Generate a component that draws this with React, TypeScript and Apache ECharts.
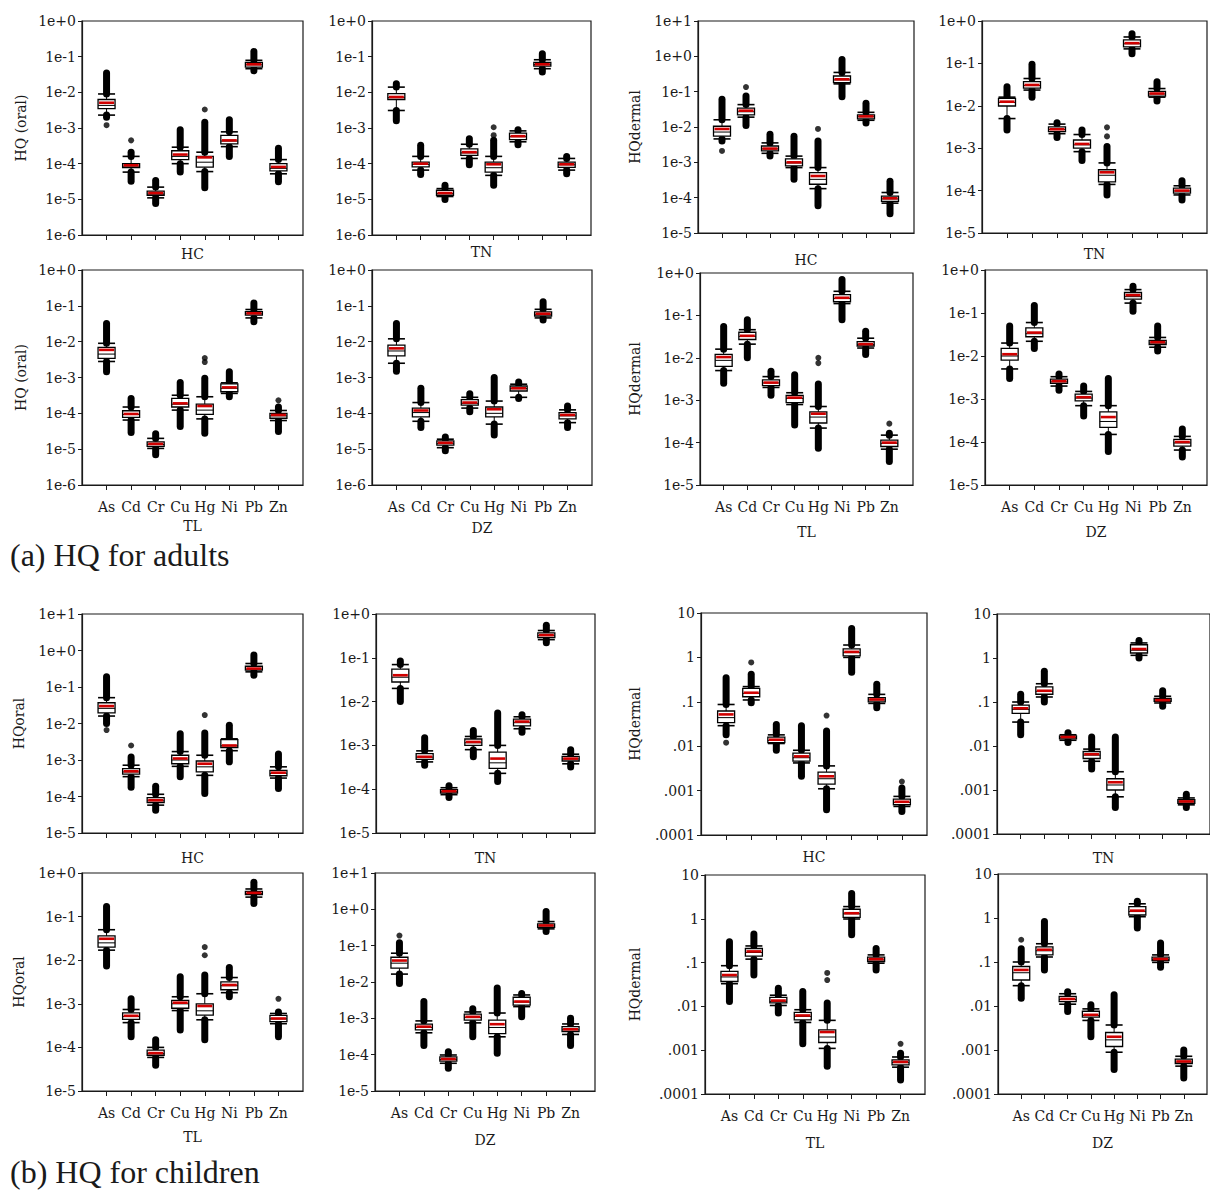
import React, { useEffect, useRef } from "react";
import * as echarts from "echarts";

// ---------- categories / labels ----------
const elements = ["As", "Cd", "Cr", "Cu", "Hg", "Ni", "Pb", "Zn"];
const xCats = ["", ...elements, ""];
const decimalTicks = ["10", "1", ".1", ".01", ".001", ".0001"]; // 1e1 .. 1e-4

// each row: [lowest outlier, lower whisker, Q1, median, Q3, upper whisker, highest outlier, mean]
// ---------- (a) adults, oral ----------
const adultOralHC = [
  [2.0e-3, 2.3e-3, 3.5e-3, 4.3e-3, 6.3e-3, 9.0e-3, 3.5e-2, 5.1e-3],
  [3.2e-5, 5.8e-5, 7.7e-5, 8.5e-5, 1.0e-4, 1.6e-4, 2.1e-4, 9.0e-5],
  [7.6e-6, 1.1e-5, 1.3e-5, 1.4e-5, 1.7e-5, 2.2e-5, 3.4e-5, 1.5e-5],
  [5.8e-5, 1.0e-4, 1.3e-4, 1.6e-4, 2.3e-4, 2.9e-4, 9.0e-4, 1.8e-4],
  [2.1e-5, 6.0e-5, 8.0e-5, 1.1e-4, 1.6e-4, 2.1e-4, 1.45e-3, 1.5e-4],
  [1.6e-4, 3.0e-4, 3.6e-4, 4.3e-4, 6.2e-4, 7.8e-4, 1.7e-3, 4.5e-4],
  [4.0e-2, 4.6e-2, 5.1e-2, 5.9e-2, 6.9e-2, 7.9e-2, 1.4e-1, 6.1e-2],
  [3.1e-5, 5.2e-5, 6.3e-5, 7.4e-5, 1.0e-4, 1.3e-4, 2.7e-4, 8.1e-5],
];
const adultOralHCIso = [[0, 1.2e-3], [1, 4.5e-4], [4, 3.3e-3]];

const adultOralTN = [
  [1.6e-3, 3.1e-3, 6.3e-3, 7.1e-3, 9.2e-3, 1.4e-2, 1.75e-2, 7.4e-3],
  [5.0e-5, 6.6e-5, 8.1e-5, 9.5e-5, 1.1e-4, 1.6e-4, 3.3e-4, 1.0e-4],
  [9.9e-6, 1.2e-5, 1.3e-5, 1.45e-5, 1.8e-5, 2.0e-5, 2.5e-5, 1.5e-5],
  [9.4e-5, 1.4e-4, 1.7e-4, 2.0e-4, 2.6e-4, 3.5e-4, 5.0e-4, 2.1e-4],
  [2.5e-5, 4.7e-5, 5.8e-5, 7.7e-5, 1.1e-4, 1.6e-4, 4.5e-4, 9.6e-5],
  [3.4e-4, 4.1e-4, 4.7e-4, 5.7e-4, 7.2e-4, 8.3e-4, 9.0e-4, 5.9e-4],
  [3.7e-2, 4.6e-2, 5.4e-2, 6.0e-2, 6.9e-2, 8.2e-2, 1.2e-1, 6.1e-2],
  [5.2e-5, 6.6e-5, 7.9e-5, 9.3e-5, 1.1e-4, 1.4e-4, 1.6e-4, 9.6e-5],
];
const adultOralTNIso = [[4, 6.3e-4], [4, 1.05e-3]];

const adultOralTL = [
  [1.45e-3, 2.8e-3, 3.4e-3, 4.5e-3, 6.9e-3, 9.0e-3, 3.2e-2, 5.9e-3],
  [2.9e-5, 6.5e-5, 7.7e-5, 9.3e-5, 1.18e-4, 1.5e-4, 2.6e-4, 9.6e-5],
  [7.0e-6, 1.05e-5, 1.2e-5, 1.35e-5, 1.6e-5, 2.0e-5, 2.7e-5, 1.4e-5],
  [4.3e-5, 1.23e-4, 1.5e-4, 1.8e-4, 2.6e-4, 3.2e-4, 7.2e-4, 1.9e-4],
  [2.8e-5, 7.0e-5, 9.4e-5, 1.23e-4, 1.8e-4, 2.9e-4, 9.5e-4, 1.6e-4],
  [2.9e-4, 3.6e-4, 4.0e-4, 5.0e-4, 6.6e-4, 7.1e-4, 1.45e-3, 5.3e-4],
  [3.6e-2, 4.6e-2, 5.5e-2, 6.0e-2, 6.9e-2, 7.9e-2, 1.2e-1, 6.2e-2],
  [3.1e-5, 6.3e-5, 7.3e-5, 8.5e-5, 1.0e-4, 1.2e-4, 1.5e-4, 9.0e-5],
];
const adultOralTLIso = [[4, 3.5e-3], [4, 2.7e-3], [7, 2.3e-4]];

const adultOralDZ = [
  [1.5e-3, 2.5e-3, 4.0e-3, 5.5e-3, 8.0e-3, 1.2e-2, 3.2e-2, 6.5e-3],
  [4.0e-5, 6.0e-5, 8.0e-5, 1.05e-4, 1.4e-4, 2.0e-4, 5.0e-4, 1.2e-4],
  [9.0e-6, 1.1e-5, 1.3e-5, 1.45e-5, 1.7e-5, 1.9e-5, 2.2e-5, 1.5e-5],
  [1.1e-4, 1.4e-4, 1.7e-4, 1.9e-4, 2.4e-4, 2.8e-4, 3.5e-4, 2.0e-4],
  [2.5e-5, 5.0e-5, 8.0e-5, 1.0e-4, 1.5e-4, 2.2e-4, 1.0e-3, 1.3e-4],
  [2.6e-4, 2.8e-4, 4.2e-4, 4.9e-4, 5.8e-4, 6.5e-4, 7.5e-4, 5.0e-4],
  [4.0e-2, 4.6e-2, 5.2e-2, 5.8e-2, 6.8e-2, 8.0e-2, 1.3e-1, 6.0e-2],
  [4.0e-5, 5.5e-5, 7.0e-5, 8.5e-5, 1.05e-4, 1.25e-4, 1.6e-4, 9.0e-5],
];
const adultOralDZIso: number[][] = [];

// ---------- (a) adults, dermal ----------
const adultDermalHC = [
  [4.0e-3, 4.6e-3, 5.5e-3, 7.2e-3, 1.05e-2, 1.6e-2, 6.1e-2, 8.8e-3],
  [1.1e-2, 1.9e-2, 2.2e-2, 2.7e-2, 3.4e-2, 4.3e-2, 7.5e-2, 2.9e-2],
  [1.5e-3, 1.8e-3, 2.1e-3, 2.4e-3, 2.9e-3, 3.55e-3, 6.2e-3, 2.45e-3],
  [3.3e-4, 7.1e-4, 7.9e-4, 9.6e-4, 1.26e-3, 1.5e-3, 5.5e-3, 1.0e-3],
  [5.9e-5, 1.8e-4, 2.4e-4, 3.3e-4, 5.1e-4, 7.1e-4, 4.0e-3, 4.1e-4],
  [7.2e-2, 1.66e-1, 1.8e-1, 2.15e-1, 2.78e-1, 3.5e-1, 8.2e-1, 2.24e-1],
  [1.3e-2, 1.55e-2, 1.7e-2, 1.95e-2, 2.2e-2, 2.6e-2, 4.7e-2, 2.0e-2],
  [3.5e-5, 7.0e-5, 7.9e-5, 9.2e-5, 1.1e-4, 1.4e-4, 2.9e-4, 9.6e-5],
];
const adultDermalHCIso = [[0, 2.1e-3], [1, 1.35e-1], [4, 8.8e-3]];

const adultDermalTN = [
  [2.7e-3, 5.0e-3, 9.9e-3, 1.2e-2, 1.5e-2, 1.6e-2, 2.8e-2, 1.25e-2],
  [1.6e-2, 2.35e-2, 2.6e-2, 3.0e-2, 3.7e-2, 4.4e-2, 9.6e-2, 3.1e-2],
  [1.8e-3, 2.2e-3, 2.45e-3, 2.75e-3, 3.2e-3, 3.7e-3, 4.0e-3, 2.8e-3],
  [5.1e-4, 8.3e-4, 1.0e-3, 1.2e-3, 1.56e-3, 2.1e-3, 2.7e-3, 1.26e-3],
  [7.9e-5, 1.4e-4, 1.6e-4, 2.3e-4, 3.1e-4, 4.5e-4, 1.1e-3, 2.7e-4],
  [1.7e-1, 2.2e-1, 2.45e-1, 2.9e-1, 3.6e-1, 4.2e-1, 5.0e-1, 3.0e-1],
  [1.3e-2, 1.6e-2, 1.7e-2, 1.9e-2, 2.2e-2, 2.55e-2, 3.7e-2, 1.95e-2],
  [6.0e-5, 7.9e-5, 8.7e-5, 9.8e-5, 1.15e-4, 1.3e-4, 1.7e-4, 1.0e-4],
];
const adultDermalTNIso = [[4, 1.9e-3], [4, 3.1e-3]];

const adultDermalTL = [
  [2.5e-3, 5.0e-3, 6.3e-3, 8.7e-3, 1.2e-2, 1.6e-2, 5.5e-2, 1.04e-2],
  [1.0e-2, 2.1e-2, 2.7e-2, 3.2e-2, 4.0e-2, 4.6e-2, 7.9e-2, 3.3e-2],
  [1.3e-3, 2.0e-3, 2.2e-3, 2.55e-3, 3.0e-3, 3.6e-3, 4.8e-3, 2.6e-3],
  [2.6e-4, 7.9e-4, 8.8e-4, 1.1e-3, 1.3e-3, 1.5e-3, 4.0e-3, 1.15e-3],
  [7.4e-5, 2.2e-4, 2.9e-4, 4.0e-4, 5.3e-4, 7.1e-4, 2.4e-3, 4.8e-4],
  [7.9e-2, 1.9e-1, 2.1e-1, 2.5e-1, 3.1e-1, 3.7e-1, 7.0e-1, 2.6e-1],
  [1.2e-2, 1.7e-2, 1.9e-2, 2.05e-2, 2.4e-2, 2.9e-2, 4.2e-2, 2.1e-2],
  [3.6e-5, 7.0e-5, 8.1e-5, 9.6e-5, 1.15e-4, 1.5e-4, 1.66e-4, 1.0e-4],
];
const adultDermalTLIso = [[4, 1.0e-2], [4, 7.5e-3], [7, 2.8e-4]];

const adultDermalDZ = [
  [3.0e-3, 5.0e-3, 8.0e-3, 1.0e-2, 1.5e-2, 2.0e-2, 5.0e-2, 1.1e-2],
  [1.5e-2, 2.2e-2, 2.8e-2, 3.3e-2, 4.5e-2, 6.0e-2, 1.5e-1, 3.5e-2],
  [1.6e-3, 2.0e-3, 2.3e-3, 2.5e-3, 2.9e-3, 3.3e-3, 3.8e-3, 2.6e-3],
  [4.0e-4, 7.0e-4, 9.0e-4, 1.05e-3, 1.3e-3, 1.5e-3, 2.0e-3, 1.1e-3],
  [6.0e-5, 1.5e-4, 2.2e-4, 3.0e-4, 5.0e-4, 7.0e-4, 3.0e-3, 3.8e-4],
  [1.1e-1, 1.7e-1, 2.1e-1, 2.4e-1, 3.0e-1, 3.5e-1, 4.2e-1, 2.6e-1],
  [1.3e-2, 1.6e-2, 1.85e-2, 2.0e-2, 2.3e-2, 2.7e-2, 5.0e-2, 2.1e-2],
  [4.5e-5, 6.5e-5, 8.0e-5, 9.5e-5, 1.15e-4, 1.35e-4, 2.0e-4, 1.0e-4],
];
const adultDermalDZIso: number[][] = [];

// ---------- (b) children, oral ----------
const childOralHC = [
  [1.0e-2, 1.6e-2, 1.95e-2, 2.6e-2, 3.7e-2, 5.1e-2, 1.9e-1, 3.0e-2],
  [1.8e-4, 3.5e-4, 4.1e-4, 4.7e-4, 5.8e-4, 7.2e-4, 1.2e-3, 4.9e-4],
  [4.2e-5, 5.8e-5, 6.8e-5, 7.6e-5, 9.3e-5, 1.15e-4, 1.9e-4, 7.9e-5],
  [3.5e-4, 6.7e-4, 7.9e-4, 1.0e-3, 1.35e-3, 1.7e-3, 5.2e-3, 1.1e-3],
  [1.2e-4, 3.8e-4, 4.7e-4, 6.5e-4, 9.4e-4, 1.35e-3, 5.5e-3, 7.9e-4],
  [8.9e-4, 1.8e-3, 2.2e-3, 2.45e-3, 3.6e-3, 3.8e-3, 8.9e-3, 2.5e-3],
  [2.1e-1, 2.6e-1, 2.9e-1, 3.1e-1, 3.7e-1, 4.4e-1, 7.5e-1, 3.2e-1],
  [1.65e-4, 3.2e-4, 3.7e-4, 4.3e-4, 5.2e-4, 6.5e-4, 1.45e-3, 4.5e-4],
];
const childOralHCIso = [[0, 6.6e-3], [1, 2.5e-3], [4, 1.7e-2]];

const childOralTN = [
  [1.0e-2, 2.0e-2, 2.8e-2, 3.6e-2, 5.5e-2, 7.0e-2, 8.5e-2, 4.0e-2],
  [3.5e-4, 4.2e-4, 4.8e-4, 5.4e-4, 6.5e-4, 7.5e-4, 1.5e-3, 5.5e-4],
  [6.5e-5, 7.5e-5, 8.2e-5, 8.8e-5, 9.8e-5, 1.08e-4, 1.2e-4, 9.0e-5],
  [5.5e-4, 8.0e-4, 1.0e-3, 1.15e-3, 1.4e-3, 1.6e-3, 2.2e-3, 1.2e-3],
  [1.5e-4, 2.3e-4, 3.0e-4, 4.0e-4, 7.0e-4, 1.0e-3, 5.5e-3, 5.0e-4],
  [2.0e-3, 2.4e-3, 2.8e-3, 3.3e-3, 4.0e-3, 4.5e-3, 5.0e-3, 3.5e-3],
  [2.2e-1, 2.6e-1, 2.9e-1, 3.2e-1, 3.7e-1, 4.2e-1, 5.5e-1, 3.3e-1],
  [3.2e-4, 3.8e-4, 4.4e-4, 4.9e-4, 5.6e-4, 6.3e-4, 8.0e-4, 5.0e-4],
];
const childOralTNIso: number[][] = [];

const childOralTL = [
  [7.4e-3, 1.7e-2, 2.0e-2, 2.5e-2, 3.6e-2, 5.0e-2, 1.7e-1, 3.1e-2],
  [1.75e-4, 3.7e-4, 4.4e-4, 5.1e-4, 6.2e-4, 7.4e-4, 1.3e-3, 5.3e-4],
  [3.9e-5, 5.9e-5, 6.6e-5, 7.2e-5, 8.7e-5, 1.0e-4, 1.5e-4, 7.4e-5],
  [2.5e-4, 7.0e-4, 7.9e-4, 1.0e-3, 1.2e-3, 1.45e-3, 4.2e-3, 1.06e-3],
  [1.5e-4, 4.3e-4, 5.5e-4, 6.9e-4, 1.0e-3, 1.7e-3, 4.6e-3, 8.9e-4],
  [1.45e-3, 1.8e-3, 2.1e-3, 2.6e-3, 3.2e-3, 4.0e-3, 6.8e-3, 2.7e-3],
  [2.0e-1, 2.8e-1, 3.2e-1, 3.4e-1, 3.8e-1, 4.3e-1, 6.1e-1, 3.5e-1],
  [1.75e-4, 3.5e-4, 3.9e-4, 4.5e-4, 5.4e-4, 6.0e-4, 6.5e-4, 4.6e-4],
];
const childOralTLIso = [[4, 2.0e-2], [4, 1.3e-2], [7, 1.3e-3]];

const childOralDZ = [
  [9.1e-3, 1.65e-2, 2.4e-2, 3.3e-2, 4.8e-2, 6.2e-2, 1.2e-1, 3.9e-2],
  [1.8e-4, 4.0e-4, 4.8e-4, 5.6e-4, 6.9e-4, 8.5e-4, 2.9e-3, 5.9e-4],
  [4.2e-5, 5.8e-5, 6.6e-5, 7.4e-5, 8.7e-5, 9.8e-5, 1.2e-4, 7.6e-5],
  [3.1e-4, 7.5e-4, 8.9e-4, 1.05e-3, 1.3e-3, 1.5e-3, 1.85e-3, 1.1e-3],
  [1.1e-4, 3.1e-4, 3.8e-4, 5.6e-4, 8.9e-4, 1.4e-3, 6.8e-3, 6.9e-4],
  [1.1e-3, 2.1e-3, 2.3e-3, 2.8e-3, 3.8e-3, 4.4e-3, 4.8e-3, 2.9e-3],
  [2.45e-1, 2.9e-1, 3.2e-1, 3.5e-1, 4.0e-1, 4.6e-1, 8.7e-1, 3.6e-1],
  [1.8e-4, 3.6e-4, 4.3e-4, 4.8e-4, 5.9e-4, 7.0e-4, 1.0e-3, 5.0e-4],
];
const childOralDZIso = [[0, 1.9e-1]];

// ---------- (b) children, dermal ----------
const childDermalHC = [
  [1.8e-2, 2.9e-2, 3.4e-2, 4.4e-2, 6.2e-2, 8.7e-2, 3.5e-1, 5.2e-2],
  [9.5e-2, 1.1e-1, 1.3e-1, 1.55e-1, 2.0e-1, 2.2e-1, 4.2e-1, 1.6e-1],
  [8.1e-3, 1.15e-2, 1.2e-2, 1.35e-2, 1.6e-2, 1.8e-2, 3.1e-2, 1.4e-2],
  [2.1e-3, 4.2e-3, 4.6e-3, 5.5e-3, 7.0e-3, 8.1e-3, 2.9e-2, 5.9e-3],
  [3.7e-4, 1.1e-3, 1.4e-3, 1.85e-3, 2.6e-3, 3.6e-3, 2.2e-2, 2.1e-3],
  [4.6e-1, 1.0, 1.08, 1.28, 1.55, 1.9, 4.5, 1.33],
  [7.3e-2, 9.2e-2, 1.0e-1, 1.1e-1, 1.24e-1, 1.47e-1, 2.5e-1, 1.13e-1],
  [3.4e-4, 4.4e-4, 4.8e-4, 5.4e-4, 6.4e-4, 7.4e-4, 1.14e-3, 5.6e-4],
];
const childDermalHCIso = [[0, 1.2e-2], [1, 7.7e-1], [4, 4.9e-2], [7, 1.6e-3]];

const childDermalTN = [
  [1.8e-2, 3.5e-2, 5.5e-2, 6.8e-2, 8.5e-2, 1.0e-1, 1.5e-1, 7.2e-2],
  [1.0e-1, 1.3e-1, 1.5e-1, 1.75e-1, 2.2e-1, 2.6e-1, 5.0e-1, 1.8e-1],
  [1.2e-2, 1.35e-2, 1.45e-2, 1.55e-2, 1.7e-2, 1.8e-2, 2.0e-2, 1.6e-2],
  [3.0e-3, 4.5e-3, 5.2e-3, 6.2e-3, 7.5e-3, 8.5e-3, 1.6e-2, 6.5e-3],
  [4.0e-4, 7.0e-4, 1.0e-3, 1.3e-3, 1.8e-3, 2.6e-3, 1.6e-2, 1.5e-3],
  [1.0, 1.15, 1.3, 1.5, 2.0, 2.2, 2.5, 1.6],
  [8.0e-2, 9.5e-2, 1.03e-1, 1.1e-1, 1.2e-1, 1.35e-1, 1.8e-1, 1.1e-1],
  [4.0e-4, 4.6e-4, 5.0e-4, 5.4e-4, 6.0e-4, 6.6e-4, 8.0e-4, 5.5e-4],
];
const childDermalTNIso: number[][] = [];

const childDermalTL = [
  [1.3e-2, 3.3e-2, 3.7e-2, 4.7e-2, 6.3e-2, 8.5e-2, 3.0e-1, 5.2e-2],
  [5.2e-2, 1.2e-1, 1.4e-1, 1.7e-1, 2.1e-1, 2.4e-1, 4.5e-1, 1.8e-1],
  [7.1e-3, 1.05e-2, 1.2e-2, 1.3e-2, 1.6e-2, 1.8e-2, 2.6e-2, 1.36e-2],
  [1.4e-3, 4.3e-3, 4.9e-3, 5.9e-3, 7.3e-3, 8.4e-3, 2.2e-2, 6.2e-3],
  [4.3e-4, 1.1e-3, 1.5e-3, 2.0e-3, 2.9e-3, 4.8e-3, 1.2e-2, 2.6e-3],
  [4.3e-1, 0.99, 1.08, 1.3, 1.65, 1.9, 3.8, 1.34],
  [6.8e-2, 9.7e-2, 1.06e-1, 1.15e-1, 1.33e-1, 1.5e-1, 2.1e-1, 1.2e-1],
  [2.1e-4, 4.1e-4, 4.6e-4, 5.2e-4, 6.0e-4, 7.0e-4, 8.5e-4, 5.4e-4],
];
const childDermalTLIso = [[4, 5.8e-2], [4, 4.0e-2], [7, 1.4e-3]];

const childDermalDZ = [
  [1.5e-2, 2.9e-2, 3.9e-2, 5.7e-2, 7.9e-2, 1.0e-1, 2.0e-1, 6.6e-2],
  [6.6e-2, 1.3e-1, 1.45e-1, 1.8e-1, 2.2e-1, 2.6e-1, 8.3e-1, 1.9e-1],
  [7.5e-3, 1.1e-2, 1.26e-2, 1.4e-2, 1.66e-2, 1.9e-2, 2.1e-2, 1.45e-2],
  [2.0e-3, 4.7e-3, 5.6e-3, 6.1e-3, 7.6e-3, 8.6e-3, 1.07e-2, 6.3e-3],
  [3.6e-4, 8.9e-4, 1.2e-3, 1.7e-3, 2.5e-3, 3.7e-3, 1.8e-2, 2.0e-3],
  [5.9e-1, 1.07, 1.17, 1.4, 1.82, 2.1, 2.4, 1.47],
  [7.6e-2, 9.8e-2, 1.08e-1, 1.15e-1, 1.29e-1, 1.45e-1, 2.7e-1, 1.17e-1],
  [2.3e-4, 4.3e-4, 4.9e-4, 5.3e-4, 6.2e-4, 7.2e-4, 1.0e-3, 5.5e-4],
];
const childDermalDZIso = [[0, 3.2e-1]];

const captions = ["(a) HQ for adults", "(b) HQ for children"];

// ---------- layout ----------
type Panel = {
  data: number[][];
  iso: number[][];
  site: string;
  yMin: number;
  yMax: number;
  yName: string;
  fmt: "exp" | "dec";
  labels: boolean;
  box: number[]; // left, top, width, height
  xGap: number;
  yGap: number;
};

const panels: Panel[] = [
  { data: adultOralHC, iso: adultOralHCIso, site: "HC", yMin: 1e-6, yMax: 1, yName: "HQ (oral)", fmt: "exp", labels: false, box: [82, 21, 221, 214], xGap: 12, yGap: 54 },
  { data: adultOralTN, iso: adultOralTNIso, site: "TN", yMin: 1e-6, yMax: 1, yName: "", fmt: "exp", labels: false, box: [372, 21, 219, 214], xGap: 10, yGap: 54 },
  { data: adultDermalHC, iso: adultDermalHCIso, site: "HC", yMin: 1e-5, yMax: 10, yName: "HQdermal", fmt: "exp", labels: false, box: [698, 21, 216, 212], xGap: 20, yGap: 56 },
  { data: adultDermalTN, iso: adultDermalTNIso, site: "TN", yMin: 1e-5, yMax: 1, yName: "", fmt: "exp", labels: false, box: [982, 21, 225, 212], xGap: 14, yGap: 54 },
  { data: adultOralTL, iso: adultOralTLIso, site: "TL", yMin: 1e-6, yMax: 1, yName: "HQ (oral)", fmt: "exp", labels: true, box: [82, 270, 221, 215], xGap: 34, yGap: 54 },
  { data: adultOralDZ, iso: adultOralDZIso, site: "DZ", yMin: 1e-6, yMax: 1, yName: "", fmt: "exp", labels: true, box: [372, 270, 220, 215], xGap: 36, yGap: 54 },
  { data: adultDermalTL, iso: adultDermalTLIso, site: "TL", yMin: 1e-5, yMax: 1, yName: "HQdermal", fmt: "exp", labels: true, box: [700, 273, 213, 212], xGap: 40, yGap: 58 },
  { data: adultDermalDZ, iso: adultDermalDZIso, site: "DZ", yMin: 1e-5, yMax: 1, yName: "", fmt: "exp", labels: true, box: [985, 270, 222, 215], xGap: 40, yGap: 54 },
  { data: childOralHC, iso: childOralHCIso, site: "HC", yMin: 1e-5, yMax: 10, yName: "HQoral", fmt: "exp", labels: false, box: [82, 614, 221, 219], xGap: 18, yGap: 56 },
  { data: childOralTN, iso: childOralTNIso, site: "TN", yMin: 1e-5, yMax: 1, yName: "", fmt: "exp", labels: false, box: [376, 614, 219, 219], xGap: 18, yGap: 54 },
  { data: childDermalHC, iso: childDermalHCIso, site: "HC", yMin: 1e-4, yMax: 10, yName: "HQdermal", fmt: "dec", labels: false, box: [701, 613, 226, 222], xGap: 15, yGap: 59 },
  { data: childDermalTN, iso: childDermalTNIso, site: "TN", yMin: 1e-4, yMax: 10, yName: "", fmt: "dec", labels: false, box: [997, 614, 230, 220], xGap: 17, yGap: 54 },
  { data: childOralTL, iso: childOralTLIso, site: "TL", yMin: 1e-5, yMax: 1, yName: "HQoral", fmt: "exp", labels: true, box: [82, 873, 221, 218], xGap: 39, yGap: 56 },
  { data: childOralDZ, iso: childOralDZIso, site: "DZ", yMin: 1e-5, yMax: 10, yName: "", fmt: "exp", labels: true, box: [375, 873, 220, 218], xGap: 42, yGap: 54 },
  { data: childDermalTL, iso: childDermalTLIso, site: "TL", yMin: 1e-4, yMax: 10, yName: "HQdermal", fmt: "dec", labels: true, box: [705, 875, 220, 219], xGap: 42, yGap: 63 },
  { data: childDermalDZ, iso: childDermalDZIso, site: "DZ", yMin: 1e-4, yMax: 10, yName: "", fmt: "dec", labels: true, box: [998, 874, 230, 220], xGap: 42, yGap: 54 },
];

const FONT = "DejaVu Serif";
const CAPTION_FONT = "Liberation Serif";
const INK = "#1a1a1a";

function fmtExp(v: number) {
  const e = Math.round(Math.log10(v));
  return e >= 0 ? `1e+${e}` : `1e${e}`;
}
function fmtDec(v: number) {
  const e = Math.round(Math.log10(v));
  return decimalTicks[1 - e] ?? "";
}

function renderBox(_params: any, api: any) {
  const xi = api.value(0);
  const P = (d: number) => api.coord([xi, api.value(d)]);
  const cx = P(1)[0];
  const yMinO = P(1)[1];
  const yWLo = P(2)[1];
  const yQ1 = P(3)[1];
  const yMed = P(4)[1];
  const yQ3 = P(5)[1];
  const yWHi = P(6)[1];
  const yMaxO = P(7)[1];
  const yMean = P(8)[1];
  const bw = 17;
  const dw = 7;
  const ch: any[] = [];
  if (api.value(7) > api.value(6)) {
    ch.push({ type: "line", shape: { x1: cx, y1: yWHi, x2: cx, y2: yMaxO }, style: { stroke: "#000", lineWidth: dw, lineCap: "round" } });
  }
  if (api.value(1) < api.value(2)) {
    ch.push({ type: "line", shape: { x1: cx, y1: yWLo, x2: cx, y2: yMinO }, style: { stroke: "#000", lineWidth: dw, lineCap: "round" } });
  }
  ch.push({ type: "line", shape: { x1: cx, y1: yQ3, x2: cx, y2: yWHi }, style: { stroke: "#000", lineWidth: 1 } });
  ch.push({ type: "line", shape: { x1: cx, y1: yQ1, x2: cx, y2: yWLo }, style: { stroke: "#000", lineWidth: 1 } });
  ch.push({ type: "line", shape: { x1: cx - bw / 2, y1: yWHi, x2: cx + bw / 2, y2: yWHi }, style: { stroke: "#000", lineWidth: 1.6 } });
  ch.push({ type: "line", shape: { x1: cx - bw / 2, y1: yWLo, x2: cx + bw / 2, y2: yWLo }, style: { stroke: "#000", lineWidth: 1.6 } });
  ch.push({ type: "rect", shape: { x: cx - bw / 2, y: yQ3, width: bw, height: Math.max(1, yQ1 - yQ3) }, style: { fill: "#fff", stroke: "#000", lineWidth: 1.3 } });
  ch.push({ type: "line", shape: { x1: cx - bw / 2, y1: yMed, x2: cx + bw / 2, y2: yMed }, style: { stroke: "#000", lineWidth: 1 } });
  ch.push({ type: "line", shape: { x1: cx - bw / 2 + 1, y1: yMean, x2: cx + bw / 2 - 1, y2: yMean }, style: { stroke: "#d00000", lineWidth: 2.6 } });
  return { type: "group", children: ch };
}

function buildOption() {
  const grid: any[] = [];
  const xAxis: any[] = [];
  const yAxis: any[] = [];
  const series: any[] = [];
  panels.forEach((p, i) => {
    const [left, top, width, height] = p.box;
    grid.push({ left, top, width, height, show: true, borderColor: INK, borderWidth: 1.2, backgroundColor: "transparent" });
    xAxis.push({
      type: "category",
      gridIndex: i,
      data: xCats,
      boundaryGap: false,
      axisLine: { show: true, lineStyle: { color: INK, width: 1.2 } },
      axisTick: { show: true, length: 5, lineStyle: { color: INK }, interval: (idx: number) => idx > 0 && idx < xCats.length - 1 },
      axisLabel: { show: p.labels, interval: 0, fontFamily: FONT, fontSize: 14, color: INK, margin: 15 },
      splitLine: { show: false },
      name: p.site,
      nameLocation: "middle",
      nameGap: p.xGap,
      nameTextStyle: { fontFamily: FONT, fontSize: 14, color: INK },
    });
    const decades = Math.round(Math.log10(p.yMax / p.yMin));
    yAxis.push({
      type: "log",
      logBase: 10,
      gridIndex: i,
      min: p.yMin,
      max: p.yMax,
      splitNumber: decades,
      axisLine: { show: true, lineStyle: { color: INK, width: 1.2 } },
      axisTick: { show: true, length: 4, lineStyle: { color: INK } },
      minorTick: { show: false },
      splitLine: { show: false },
      axisLabel: { formatter: p.fmt === "exp" ? fmtExp : fmtDec, fontFamily: FONT, fontSize: 14, color: INK, margin: 6 },
      name: p.yName,
      nameLocation: "middle",
      nameGap: p.yGap,
      nameTextStyle: { fontFamily: FONT, fontSize: 14, color: INK },
    });
    series.push({
      type: "custom",
      xAxisIndex: i,
      yAxisIndex: i,
      renderItem: renderBox,
      encode: { x: 0, y: [1, 2, 3, 4, 5, 6, 7, 8] },
      data: p.data.map((d, k) => [k + 1, ...d]),
      clip: false,
      silent: true,
    });
    series.push({
      type: "scatter",
      xAxisIndex: i,
      yAxisIndex: i,
      symbol: "circle",
      symbolSize: 6,
      itemStyle: { color: "#000" },
      data: p.iso.map(([k, v]) => [k + 1, v]),
      silent: true,
    });
  });
  return {
    animation: false,
    backgroundColor: "#fff",
    grid,
    xAxis,
    yAxis,
    series,
    graphic: [
      { type: "text", left: 10, top: 539, style: { text: captions[0], fontFamily: CAPTION_FONT, fontSize: 32, fill: INK } },
      { type: "text", left: 10, top: 1156, style: { text: captions[1], fontFamily: CAPTION_FONT, fontSize: 32, fill: INK } },
    ],
  };
}

export default function App() {
  const ref = useRef<HTMLDivElement>(null);
  useEffect(() => {
    document.body.style.margin = "0";
    if (!ref.current) return;
    const chart = echarts.init(ref.current, undefined, { renderer: "svg" });
    chart.setOption(buildOption() as any);
    return () => chart.dispose();
  }, []);
  return <div ref={ref} style={{ width: 1210, height: 1190, overflow: "hidden" }} />;
}
